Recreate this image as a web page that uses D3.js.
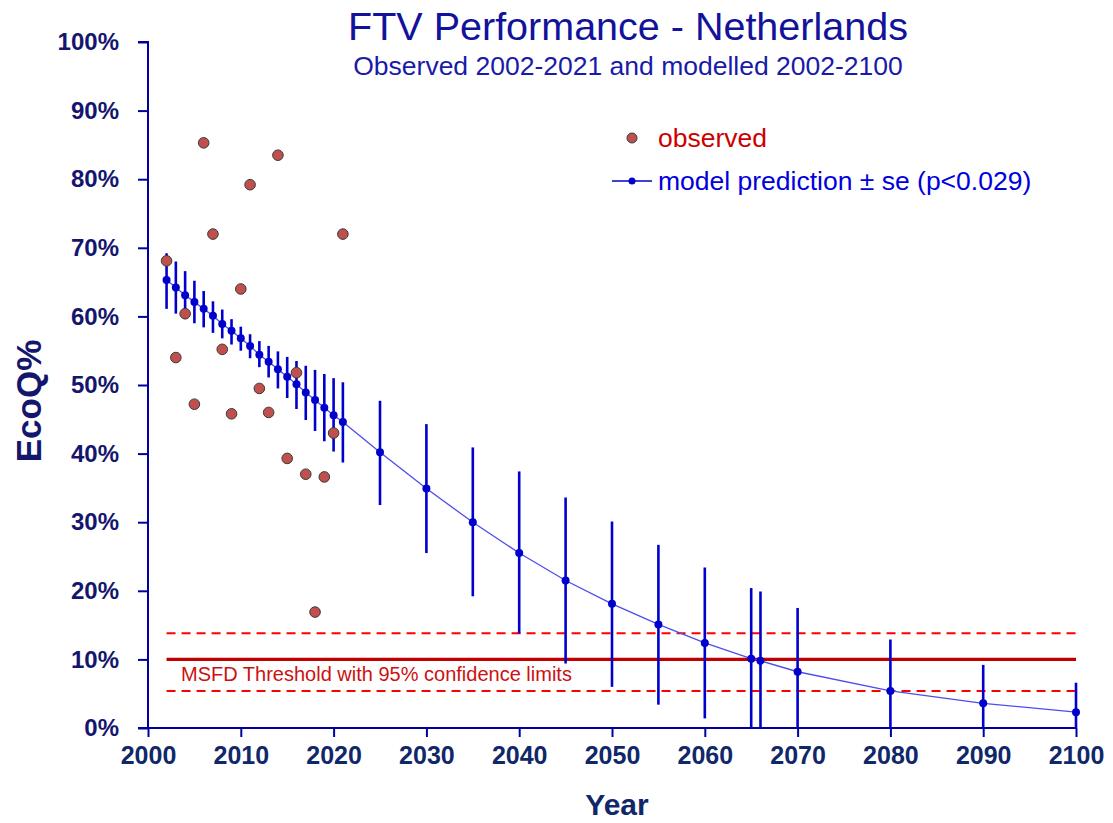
<!DOCTYPE html>
<html>
<head>
<meta charset="utf-8">
<script src="https://cdn.jsdelivr.net/npm/d3@7"></script>
<style>
	body { margin: 0; background: #fff; }
	svg text { font-family: "Liberation Sans", Arial, sans-serif; }
</style>
</head>
<body>
<div id="chart"></div>
<script>
// observed EcoQ% per year
var obsYears = [2002, 2003, 2004, 2005, 2006, 2007, 2008, 2009, 2010, 2011,
	2012, 2013, 2014, 2015, 2016, 2017, 2018, 2019, 2020, 2021];
var obsValues = [68.1, 54.0, 60.4, 47.2, 85.3, 72.0, 55.2, 45.8, 64.0, 79.2,
	49.5, 46.0, 83.5, 39.3, 51.8, 37.0, 16.9, 36.6, 43.0, 72.0];

// model prediction and +/- se
var modelYears = [2002, 2003, 2004, 2005, 2006, 2007, 2008, 2009, 2010, 2011,
	2012, 2013, 2014, 2015, 2016, 2017, 2018, 2019, 2020, 2021,
	2025, 2030, 2035, 2040, 2045, 2050, 2055, 2060, 2065, 2066, 2070, 2080, 2090, 2100];
var modelValues = [65.3, 64.2, 63.1, 62.1, 61.1, 60.1, 58.9, 57.9, 56.8, 55.7,
	54.4, 53.4, 52.3, 51.2, 50.1, 48.9, 47.8, 46.7, 45.6, 44.6,
	40.2, 34.9, 30.0, 25.5, 21.5, 18.1, 15.1, 12.4, 10.1, 9.8, 8.2, 5.4, 3.6, 2.3];
var modelUpper = [69.2, 68.0, 66.6, 65.2, 63.7, 62.2, 61.0, 59.6, 58.5, 57.4,
	56.4, 55.7, 54.9, 54.1, 53.5, 52.8, 52.2, 51.6, 51.0, 50.4,
	47.7, 44.3, 40.9, 37.4, 33.6, 30.1, 26.7, 23.4, 20.4, 19.9, 17.5, 12.9, 9.2, 6.6];
var modelLower = [61.1, 60.4, 59.6, 59.0, 58.4, 57.6, 56.8, 55.9, 55.0, 53.9,
	52.6, 51.1, 49.5, 48.1, 46.5, 44.9, 43.3, 41.8, 40.3, 38.7,
	32.5, 25.5, 19.2, 13.8, 9.4, 6.0, 3.4, 1.4, 0, 0, 0, 0, 0, 0];

// MSFD threshold with 95% limits
var thrYears = [2002, 2100];
var thrValue = 10, thrLower = 5.4, thrUpper = 13.8;

var yTicks = [0, 10, 20, 30, 40, 50, 60, 70, 80, 90, 100];
var xTicks = [2000, 2010, 2020, 2030, 2040, 2050, 2060, 2070, 2080, 2090, 2100];

const
	W = 1113, H = 823,
	LEFT = 148, RIGHT = 1076, TOP = 42, BOTTOM = 728,
	AXIS_COLOR = "#0000a0",
	LABEL_COLOR = "#14166e",
	BLUE = "#0000cc",
	OBS_FILL = "#c0504d";

var svg = d3.select("#chart").append("svg")
	.attr("width", W)
	.attr("height", H);

var x = d3.scaleLinear().domain([2000, 2100]).range([LEFT, RIGHT]);
var y = d3.scaleLinear().domain([0, 100]).range([BOTTOM, TOP]);

// titles
svg.append("text")
	.attr("x", 628).attr("y", 40)
	.attr("text-anchor", "middle")
	.style("font-size", "39.5px")
	.style("fill", "#12129a")
	.text("FTV Performance - Netherlands");
svg.append("text")
	.attr("x", 628).attr("y", 75)
	.attr("text-anchor", "middle")
	.style("font-size", "26.5px")
	.style("fill", "#1a1aa8")
	.text("Observed 2002-2021 and modelled 2002-2100");

// threshold lines
var thr = svg.append("g");
[thrUpper, thrLower].forEach(function(v){
	thr.append("line")
		.attr("x1", x(thrYears[0])).attr("x2", x(thrYears[1]))
		.attr("y1", y(v)).attr("y2", y(v))
		.attr("stroke", "#ff0000")
		.attr("stroke-width", 2)
		.attr("stroke-dasharray", "9,6");
});
thr.append("line")
	.attr("x1", x(thrYears[0])).attr("x2", x(thrYears[1]))
	.attr("y1", y(thrValue)).attr("y2", y(thrValue))
	.attr("stroke", "#c00000")
	.attr("stroke-width", 3.3);
thr.append("text")
	.attr("x", 181).attr("y", 681)
	.style("font-size", "20px")
	.style("fill", "#cc1111")
	.text("MSFD Threshold with 95% confidence limits");

// model: error bars, line, points
var model = modelYears.map(function(yr, i){
	return {year: yr, v: modelValues[i], hi: modelUpper[i], lo: modelLower[i]};
});

svg.append("g").selectAll("line")
	.data(model)
	.enter().append("line")
	.attr("x1", function(d){ return x(d.year); })
	.attr("x2", function(d){ return x(d.year); })
	.attr("y1", function(d){ return y(d.hi); })
	.attr("y2", function(d){ return y(d.lo); })
	.attr("stroke", BLUE)
	.attr("stroke-width", 2.6);

svg.append("path")
	.datum(model)
	.attr("fill", "none")
	.attr("stroke", "#4d4dee")
	.attr("stroke-width", 1.3)
	.attr("d", d3.line().x(function(d){ return x(d.year); }).y(function(d){ return y(d.v); }));

svg.append("g").selectAll("circle")
	.data(model)
	.enter().append("circle")
	.attr("cx", function(d){ return x(d.year); })
	.attr("cy", function(d){ return y(d.v); })
	.attr("r", 4)
	.attr("fill", BLUE);

// observed
svg.append("g").selectAll("circle")
	.data(obsYears.map(function(yr, i){ return {year: yr, v: obsValues[i]}; }))
	.enter().append("circle")
	.attr("cx", function(d){ return x(d.year); })
	.attr("cy", function(d){ return y(d.v); })
	.attr("r", 5.3)
	.attr("fill", OBS_FILL)
	.attr("stroke", "#3a3a3a")
	.attr("stroke-width", 1);

// axes
var yAxis = d3.axisLeft(y).tickValues(yTicks)
	.tickFormat(function(d){ return d + "%"; })
	.tickSize(10).tickPadding(19);
var xAxis = d3.axisBottom(x).tickValues(xTicks)
	.tickFormat(d3.format("d"))
	.tickSize(9).tickPadding(9);

var gy = svg.append("g")
	.attr("transform", "translate(" + LEFT + ",0)")
	.call(yAxis);
var gx = svg.append("g")
	.attr("transform", "translate(0," + BOTTOM + ")")
	.call(xAxis);

[gx, gy].forEach(function(g){
	g.select(".domain").attr("stroke", AXIS_COLOR).attr("stroke-width", 2);
	g.selectAll(".tick line").attr("stroke", AXIS_COLOR).attr("stroke-width", 2);
	g.selectAll(".tick text")
		.style("font-family", "'Liberation Sans', Arial, sans-serif")
		.style("font-weight", "bold");
});
gy.select(".domain").attr("d", "M-10," + TOP + "H0V" + BOTTOM + "H-10");
gx.select(".domain").attr("d", "M" + LEFT + ",0H" + RIGHT);
gy.selectAll(".tick text").style("font-size", "24px").style("fill", LABEL_COLOR);
gx.selectAll(".tick text").style("font-size", "25px").style("fill", "#10286a");

// axis titles
svg.append("text")
	.attr("transform", "translate(41,401) rotate(-90)")
	.attr("text-anchor", "middle")
	.style("font-size", "35px")
	.style("font-weight", "bold")
	.style("fill", LABEL_COLOR)
	.text("EcoQ%");
svg.append("text")
	.attr("x", 617).attr("y", 815)
	.attr("text-anchor", "middle")
	.style("font-size", "30px")
	.style("font-weight", "bold")
	.style("fill", "#10286a")
	.text("Year");

// legend
var legend = svg.append("g");
legend.append("circle")
	.attr("cx", 632).attr("cy", 138).attr("r", 5)
	.attr("fill", OBS_FILL).attr("stroke", "#3a3a3a");
legend.append("text")
	.attr("x", 658).attr("y", 147)
	.style("font-size", "26.5px")
	.style("fill", "#cc0000")
	.text("observed");
legend.append("line")
	.attr("x1", 612).attr("x2", 652).attr("y1", 181).attr("y2", 181)
	.attr("stroke", BLUE).attr("stroke-width", 1.3);
legend.append("circle")
	.attr("cx", 632).attr("cy", 181).attr("r", 3.5)
	.attr("fill", BLUE);
legend.append("text")
	.attr("x", 658).attr("y", 190)
	.style("font-size", "26.5px")
	.style("fill", "#0000dd")
	.text("model prediction \u00b1 se (p<0.029)");
</script>
</body>
</html>
